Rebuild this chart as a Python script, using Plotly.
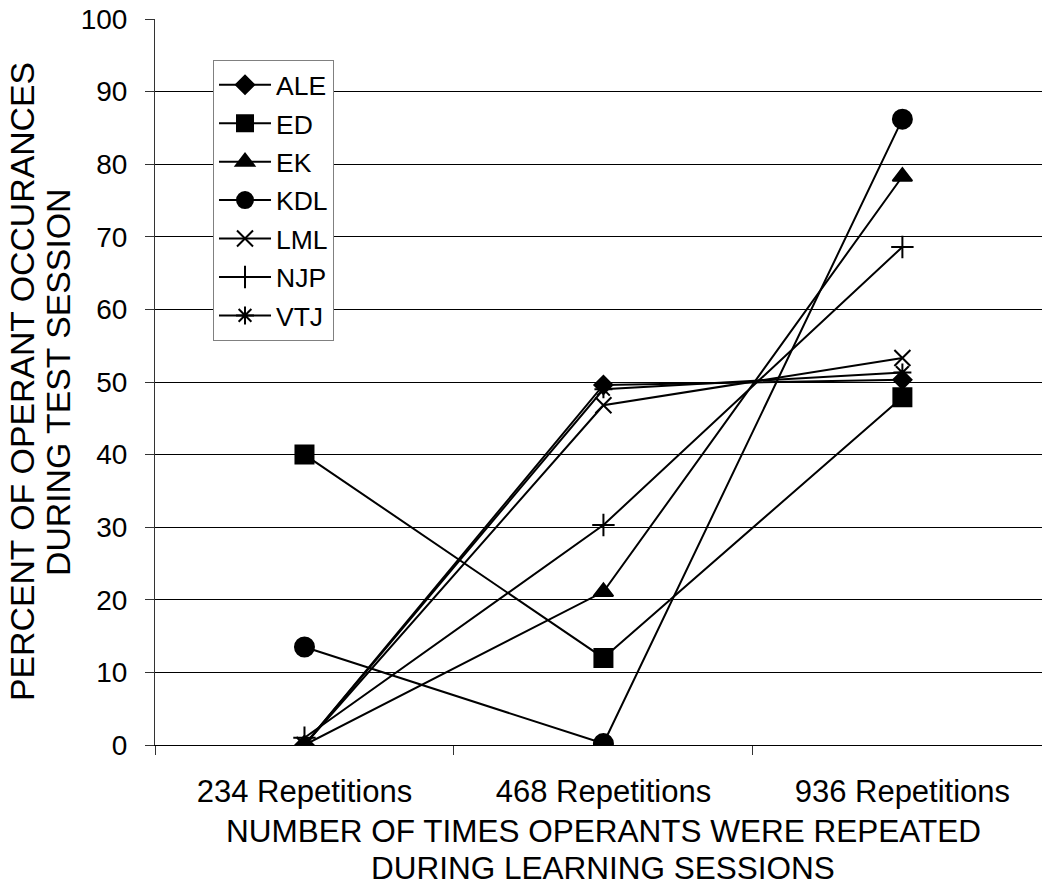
import plotly.graph_objects as go

# Repetition conditions on the x axis
categories = ["234 Repetitions", "468 Repetitions", "936 Repetitions"]

# Percent of operant occurrences per participant
ale = [0, 49.6, 50.3]
ed = [40, 12.0, 47.9]
ek = [0, 21.1, 78.3]
kdl = [13.5, 0.2, 86.2]
lml = [0, 46.8, 53.3]
njp = [1.0, 30.3, 68.6]
vtj = [0, 49.0, 51.3]

y_ticks = [0, 10, 20, 30, 40, 50, 60, 70, 80, 90, 100]

series = [
    ("ALE", ale, "diamond", 14),
    ("ED", ed, "square", 18),
    ("EK", ek, "triangle-up", 17),
    ("KDL", kdl, "circle", 19),
    ("LML", lml, "x-thin-open", 16),
    ("NJP", njp, "cross-thin-open", 16),
    ("VTJ", vtj, "asterisk-open", 15),
]

FONT = "Liberation Sans, Arial, sans-serif"

fig = go.Figure()
for name, vals, sym, size in series:
    fig.add_trace(go.Scatter(
        x=categories, y=vals, name=name, mode="lines+markers",
        line=dict(color="black", width=2),
        marker=dict(symbol=sym, size=size, color="black",
                    line=dict(color="black", width=2)),
        legendgroup=name,
    ))

fig.update_layout(
    width=1042, height=886,
    margin=dict(l=155, r=0, t=19, b=141, autoexpand=False),
    paper_bgcolor="white", plot_bgcolor="white",
    font=dict(family=FONT, color="black", size=28),
    showlegend=True,
    legend=dict(
        x=0.0654, y=0.9435, xanchor="left", yanchor="top",
        bgcolor="white", bordercolor="#808080", borderwidth=1,
        font=dict(size=26.5, family=FONT, color="black"),
        tracegroupgap=1, itemwidth=52,
    ),
    xaxis=dict(
        type="category", range=[-0.5, 2.467],
        tickson="boundaries", ticks="outside", ticklen=9,
        tickcolor="#333", showline=True, linecolor="black", linewidth=1,
        showgrid=False, tickfont=dict(size=31, family=FONT),
        ticklabelstandoff=19,
    ),
    yaxis=dict(
        range=[0, 100], tickvals=y_ticks, ticks="outside", ticklen=9,
        tickcolor="#333", showline=True, linecolor="#333", linewidth=1,
        showgrid=True, gridcolor="black", gridwidth=1, zeroline=False,
        tickfont=dict(size=28, family=FONT), ticklabelstandoff=12,
    ),
)

# Axis titles, one annotation per line
x_title = ["NUMBER OF TIMES OPERANTS WERE REPEATED", "DURING LEARNING SESSIONS"]
for i, line in enumerate(x_title):
    fig.add_annotation(
        text=line, xref="x", yref="paper", x=1, y=0,
        yshift=-66 - 37 * i, xanchor="center", yanchor="top",
        showarrow=False, font=dict(size=31.5, family=FONT),
    )

y_title = ["PERCENT OF OPERANT OCCURANCES", "DURING TEST SESSION"]
for i, line in enumerate(y_title):
    fig.add_annotation(
        text=line, xref="paper", yref="paper", x=0, y=0.5,
        xshift=-133 + 36 * i, xanchor="center", yanchor="middle",
        textangle=-90, showarrow=False, font=dict(size=33.8, family=FONT),
    )

fig.write_html("out.html")
